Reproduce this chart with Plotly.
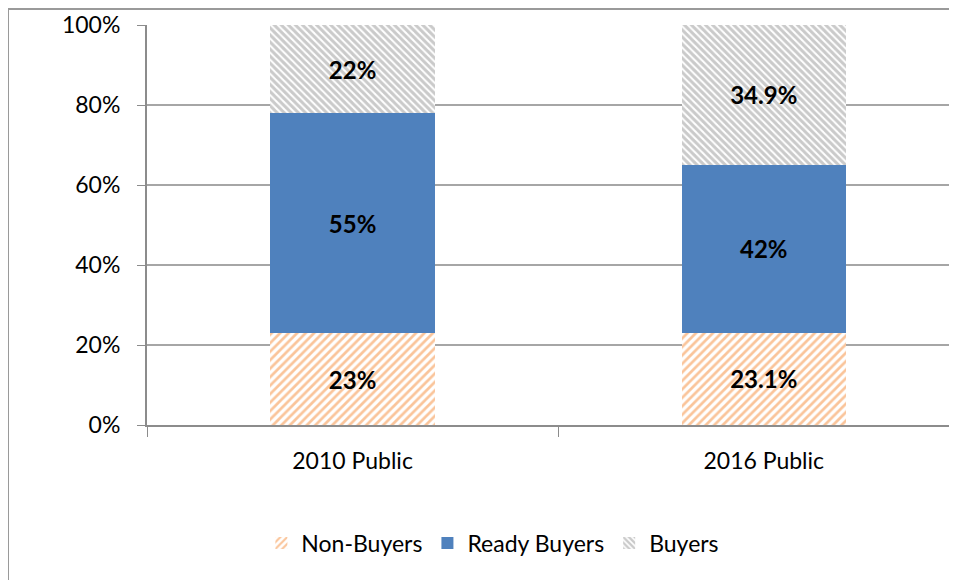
import plotly.graph_objects as go

categories = ["2010 Public", "2016 Public"]
non_buyers = [23, 23.1]
ready_buyers = [55, 42]
buyers = [22, 34.9]

non_buyer_labels = ["23%", "23.1%"]
ready_labels = ["55%", "42%"]
buyer_labels = ["22%", "34.9%"]

label_font = dict(family="Lato, Noto Sans, sans-serif", size=24, color="black")

trace1 = go.Bar(
    x=categories, y=non_buyers, name="Non-Buyers",
    text=non_buyer_labels, textposition="inside", insidetextanchor="middle",
    textfont=label_font, texttemplate="<b>%{text}</b>",
    marker=dict(color="white", line_width=0,
                pattern=dict(shape="/", fgcolor="#F68A35", bgcolor="white",
                             size=6, solidity=0.45)),
)
trace2 = go.Bar(
    x=categories, y=ready_buyers, name="Ready Buyers",
    text=ready_labels, textposition="inside", insidetextanchor="middle",
    textfont=label_font, texttemplate="<b>%{text}</b>",
    marker=dict(color="#4F81BD", line_width=0),
)
trace3 = go.Bar(
    x=categories, y=buyers, name="Buyers",
    text=buyer_labels, textposition="inside", insidetextanchor="middle",
    textfont=label_font, texttemplate="<b>%{text}</b>",
    marker=dict(color="white", line_width=0,
                pattern=dict(shape="\\", fgcolor="#969696", bgcolor="white",
                             size=5, solidity=0.6)),
)

fig = go.Figure(data=[trace1, trace2, trace3])
fig.update_layout(
    width=949, height=572,
    barmode="stack", bargap=0.6,
    plot_bgcolor="white", paper_bgcolor="white",
    margin=dict(l=139, r=0, t=17, b=155),
    font=dict(family="Lato, Noto Sans, sans-serif", size=23, color="black"),
    uniformtext=dict(mode="show", minsize=20),
    legend=dict(orientation="h", x=0.427, xanchor="center", y=-0.295,
                yanchor="middle", font=dict(size=23), traceorder="normal",
                itemwidth=30),
    showlegend=True,
)
fig.update_xaxes(
    range=[-0.5, 1.47], tickson="boundaries", ticks="outside", ticklen=10,
    tickcolor="#8C8C8C", showline=True, linecolor="#8C8C8C", linewidth=2,
    ticklabelstandoff=14, showgrid=False,
)
fig.update_yaxes(
    range=[0, 100], dtick=20, ticksuffix="%", ticks="outside", ticklen=8,
    tickcolor="#8C8C8C", showline=True, linecolor="#8C8C8C", linewidth=2,
    showgrid=True, gridcolor="#A6A6A6", gridwidth=1.5, zeroline=False,
    ticklabelstandoff=12,
)
# chart area border
fig.add_shape(type="rect", xref="paper", yref="paper",
              x0=-0.1716, x1=1.2, y0=-0.5, y1=1.04,
              line=dict(color="#9A9A9A", width=2), layer="below")

fig.write_html("out.html")
